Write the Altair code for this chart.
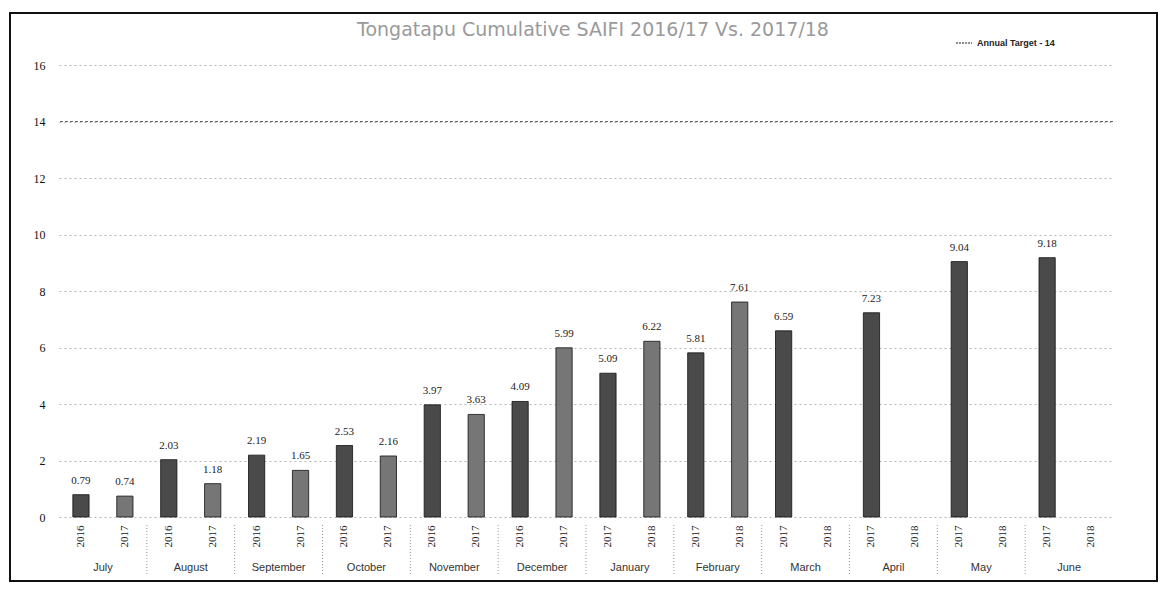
import altair as alt
import pandas as pd

# ---- data ----
months = ["July", "August", "September", "October", "November", "December",
          "January", "February", "March", "April", "May", "June"]
first_years = ["2016"] * 6 + ["2017"] * 6
second_years = ["2017"] * 6 + ["2018"] * 6
first_values = [0.79, 2.03, 2.19, 2.53, 3.97, 4.09, 5.09, 5.81, 6.59, 7.23, 9.04, 9.18]
second_values = [0.74, 1.18, 1.65, 2.16, 3.63, 5.99, 6.22, 7.61, None, None, None, None]
y_ticks = [0, 2, 4, 6, 8, 10, 12, 14, 16]
target_value = [14]
target_label = ["Annual Target - 14"]
title_text = ["Tongatapu Cumulative SAIFI 2016/17 Vs. 2017/18"]

rows = []
for i, m in enumerate(months):
    for s, (yrs, vals) in enumerate([(first_years, first_values), (second_years, second_values)]):
        rows.append({"key": f"{m}|{yrs[i]}", "order": 2 * i + s, "month": m,
                     "year": yrs[i], "value": vals[i], "is_first": s == 0})
df = pd.DataFrame(rows)
keys = list(df["key"])

W, H = 1054, 452
STEP = W / len(keys)

x_enc = alt.X("key:N", sort=keys,
              scale=alt.Scale(domain=keys, paddingInner=0.63, paddingOuter=0.315),
              axis=alt.Axis(title=None, labelExpr="split(datum.label, '|')[1]",
                            labelAngle=-90, domain=False, ticks=False, labelPadding=8,
                            labelFont="Liberation Serif", labelFontSize=11,
                            labelColor="#222", grid=False))
y_enc = alt.Y("value:Q", scale=alt.Scale(domain=[0, 16], nice=False),
              axis=alt.Axis(title=None, values=y_ticks, domain=False, ticks=False,
                            labelPadding=14, labelFont="Liberation Serif",
                            labelFontSize=12, labelColor="#111", grid=True,
                            gridColor="#b5b5b5", gridDash=[2, 3], gridWidth=1))

base = alt.Chart(df)

bars = base.mark_bar(stroke="#111", strokeWidth=0.8).encode(
    x=x_enc, y=y_enc,
    fill=alt.condition("datum.is_first", alt.value("#4a4a4a"), alt.value("#767676")),
)

labels = base.transform_filter("datum.value != null").mark_text(
    dy=-9, font="Liberation Serif", fontSize=11, color="#222", baseline="bottom"
).encode(x=alt.X("key:N", sort=keys), y="value:Q", text=alt.Text("value:Q", format=".2f"))

month_text = base.transform_filter("datum.is_first").mark_text(
    dx=STEP / 2, font="Liberation Sans", fontSize=11, color="#333", baseline="middle"
).encode(x=alt.X("key:N", sort=keys), y=alt.value(H + 51), text="month:N")

separators = base.transform_filter("datum.is_first && datum.order > 0").mark_rule(
    xOffset=-STEP / 2, color="#999", strokeDash=[1, 2], strokeWidth=1
).encode(x=alt.X("key:N", sort=keys), y=alt.value(H + 8), y2=alt.value(H + 59))

target = alt.Chart(pd.DataFrame({"target": target_value, "label": target_label})).mark_rule(
    strokeDash=[3, 2], strokeWidth=1.2
).encode(
    y="target:Q",
    color=alt.Color("label:N", scale=alt.Scale(range=["#666666"]),
                    legend=alt.Legend(title=None, orient="none", legendX=896, legendY=-31,
                                      symbolType="stroke", symbolSize=260,
                                      symbolStrokeWidth=1.5, symbolDash=[2, 1],
                                      labelFont="Liberation Sans", labelFontSize=9,
                                      labelFontWeight="bold", labelColor="#222")),
)

title_df = pd.DataFrame({"title": title_text})
title = alt.Chart(title_df).mark_text(
    font="DejaVu Sans", fontSize=19, color="#9a9a9a", baseline="middle", align="center"
).encode(x=alt.value(W / 2 + 7), y=alt.value(-35), text="title:N")

frame = alt.Chart(title_df).mark_rect(
    fill=None, stroke="#111", strokeWidth=2
).encode(x=alt.value(-49), x2=alt.value(W + 44), y=alt.value(-52), y2=alt.value(H + 64))

chart = alt.layer(frame, bars, target, labels, month_text, separators, title).properties(
    width=W, height=H,
    autosize=alt.AutoSizeParams(type="none"),
    padding={"left": 51, "top": 57, "right": 45, "bottom": 66},
).configure_view(stroke=None)

chart.save("out.html", embed_options={"renderer": "svg", "actions": False})
